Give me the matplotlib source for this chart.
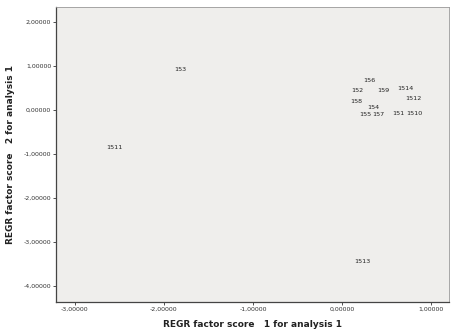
import matplotlib
matplotlib.use('Agg')
import matplotlib.pyplot as plt
from matplotlib.ticker import FuncFormatter

# point labels and REGR factor scores
labels = ['153', '1511', '1513', '156', '152', '159', '1514', '1512',
          '158', '154', '155', '157', '151', '1510']
score1 = [-1.82, -2.56, 0.23, 0.31, 0.17, 0.46, 0.71, 0.80,
          0.16, 0.35, 0.26, 0.41, 0.63, 0.81]
score2 = [0.93, -0.84, -3.43, 0.68, 0.45, 0.45, 0.48, 0.27,
          0.20, 0.05, -0.11, -0.11, -0.09, -0.09]

x_ticks = [-3, -2, -1, 0, 1]
y_ticks = [2, 1, 0, -1, -2, -3, -4]


def spss_fmt(v, pos):
    return f"{v:.5f}".replace('.', ',')


fig = plt.figure(figsize=(4.57, 3.36), dpi=100)
ax = fig.add_axes([56 / 457, 1 - 302 / 336, (449 - 56) / 457, (302 - 7) / 336])
ax.set_facecolor('#efeeec')

for lab, x, y in zip(labels, score1, score2):
    ax.text(x, y, lab, fontsize=4.6, ha='center', va='center', color='#222222')

ax.set_xlim(-3.21, 1.20)
ax.set_ylim(-4.36, 2.34)
ax.set_xticks(x_ticks)
ax.set_yticks(y_ticks)
ax.xaxis.set_major_formatter(FuncFormatter(spss_fmt))
ax.yaxis.set_major_formatter(FuncFormatter(spss_fmt))
ax.tick_params(labelsize=4.5, length=2, width=0.6, pad=1.5, colors='#333333')

for side in ['left', 'bottom']:
    ax.spines[side].set_color('#444444')
    ax.spines[side].set_linewidth(0.9)
for side in ['top', 'right']:
    ax.spines[side].set_color('#999999')
    ax.spines[side].set_linewidth(0.6)

ax.set_xlabel('REGR factor score   1 for analysis 1', fontsize=6.5,
              fontweight='bold', color='#222222', labelpad=6)
ax.set_ylabel('REGR factor score   2 for analysis 1', fontsize=6.5,
              fontweight='bold', color='#222222', labelpad=6)

fig.savefig('out.png', dpi=100, facecolor='white')
